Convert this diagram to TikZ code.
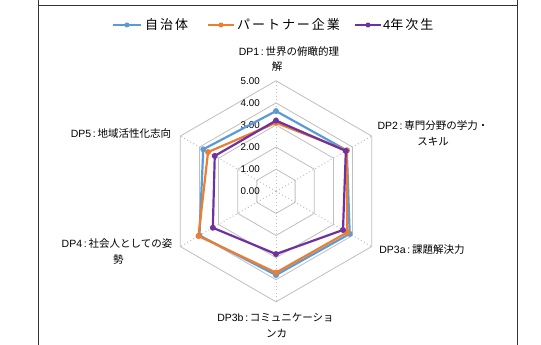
\documentclass[tikz,border=0pt]{standalone}
\usepackage{fontspec}
\setmainfont{Liberation Sans}
\newfontfamily\jp{Noto Sans CJK JP}
\newfontfamily\jpleg[LetterSpace=15]{Noto Sans CJK JP}
\newcommand\lat[1]{{\rmfamily #1}}
\definecolor{cblue}{HTML}{5B9BD5}
\definecolor{corange}{HTML}{ED7D31}
\definecolor{cpurple}{HTML}{7030A0}
\definecolor{cgrid}{HTML}{BFBFBF}
\begin{document}
\begin{tikzpicture}[x=1pt,y=1pt,
  ring/.style={draw=cgrid, line width=0.8pt},
  spoke/.style={draw=cgrid, line width=1pt, dash pattern=on 1pt off 2.5pt},
  ticklbl/.style={anchor=east, font=\fontsize{9.8}{10}\selectfont, inner sep=0pt},
  axlbl/.style={font=\jp\fontsize{10.5}{12}\selectfont, inner sep=0pt},
  legtxt/.style={anchor=west, font=\jpleg\fontsize{13}{14}\selectfont, inner sep=0pt},
  series/.style={line width=2.2pt, line join=round},
  dot/.style={circle, fill=#1, inner sep=0pt, minimum size=6pt}]
\useasboundingbox (0,0) rectangle (541,345);
\fill[white] (0,0) rectangle (541,345);
\draw[black!80, line width=0.8pt] (38,350) rectangle (517,-5);
\draw[black!80, line width=0.8pt] (38,340) -- (517,340);
% legend
\coordinate (lb1) at (113,320); \coordinate (lb2) at (141,320);
\draw[cblue, line width=2pt] (lb1) -- (lb2);
\node[dot=cblue, minimum size=5pt] (lbm) at (127,320) {};
\node[legtxt] (lbt) at (145,320) {自治体};
\coordinate (lo1) at (208,320); \coordinate (lo2) at (234,320);
\draw[corange, line width=2pt] (lo1) -- (lo2);
\node[dot=corange, minimum size=5pt] (lom) at (221,320) {};
\node[legtxt] (lot) at (237,320) {パートナー企業};
\coordinate (lp1) at (355,320); \coordinate (lp2) at (381,320);
\draw[cpurple, line width=2pt] (lp1) -- (lp2);
\node[dot=cpurple, minimum size=5pt] (lpm) at (368,320) {};
\node[legtxt] (lpt) at (383,320) {\lat{\fontsize{13}{14}\selectfont 4}年次生};
% axis labels
\node[axlbl] (a1a) at (289,293.3) {\lat{DP1\,:\,}世界の俯瞰的理};
\node[axlbl] (a1b) at (277,278) {解};
\node[axlbl] (a2a) at (433,219) {\lat{DP2\,:\,}専門分野の学力・};
\node[axlbl] (a2b) at (433,203.3) {スキル};
\node[axlbl] (a3) at (422,95) {\lat{DP3a\,:\,}課題解決力};
\node[axlbl] (a4a) at (275.5,27.7) {\lat{DP3b\,:\,}コミュニケーショ};
\node[axlbl] (a4b) at (276.7,11.7) {ンカ};
\node[axlbl] (a5a) at (117,101.7) {\lat{DP4\,:\,}社会人としての姿};
\node[axlbl] (a5b) at (118.3,85) {勢};
\node[axlbl] (a6) at (121,211) {\lat{DP5\,:\,}地域活性化志向};
\begin{scope}[shift={(276,153.7)}]
\def\u{22.1}
\coordinate (O) at (0,0);
\foreach \r in {1,...,5}{
  \draw[ring] (90:\r*\u) -- (30:\r*\u) -- (-30:\r*\u) -- (-90:\r*\u) -- (210:\r*\u) -- (150:\r*\u) -- cycle;
}
\foreach \a in {90,30,-30,-90,210,150}{
  \coordinate (S\a) at (\a:5*\u);
  \draw[spoke] (O) -- (S\a);
}
\foreach \r in {0,...,5}{
  \node[ticklbl] at (-16,\r*\u) {\r.00};
}
% data
\foreach \s/\c/\va/\vb/\vc/\vd/\ve/\vf in {
  b/cblue/3.63/3.7/3.85/3.79/4.0/3.8,
  o/corange/3.1/3.7/3.72/3.68/4.05/3.55,
  p/cpurple/3.2/3.65/3.5/2.84/3.3/3.2}{
  \coordinate (\s1) at (90:\va*\u);
  \coordinate (\s2) at (30:\vb*\u);
  \coordinate (\s3) at (-30:\vc*\u);
  \coordinate (\s4) at (-90:\vd*\u);
  \coordinate (\s5) at (210:\ve*\u);
  \coordinate (\s6) at (150:\vf*\u);
  \draw[series, draw=\c] (\s1) -- (\s2) -- (\s3) -- (\s4) -- (\s5) -- (\s6) -- cycle;
  \foreach \k in {1,...,6}{ \node[dot=\c] at (\s\k) {}; }
}
\end{scope}
\end{tikzpicture}
\end{document}
